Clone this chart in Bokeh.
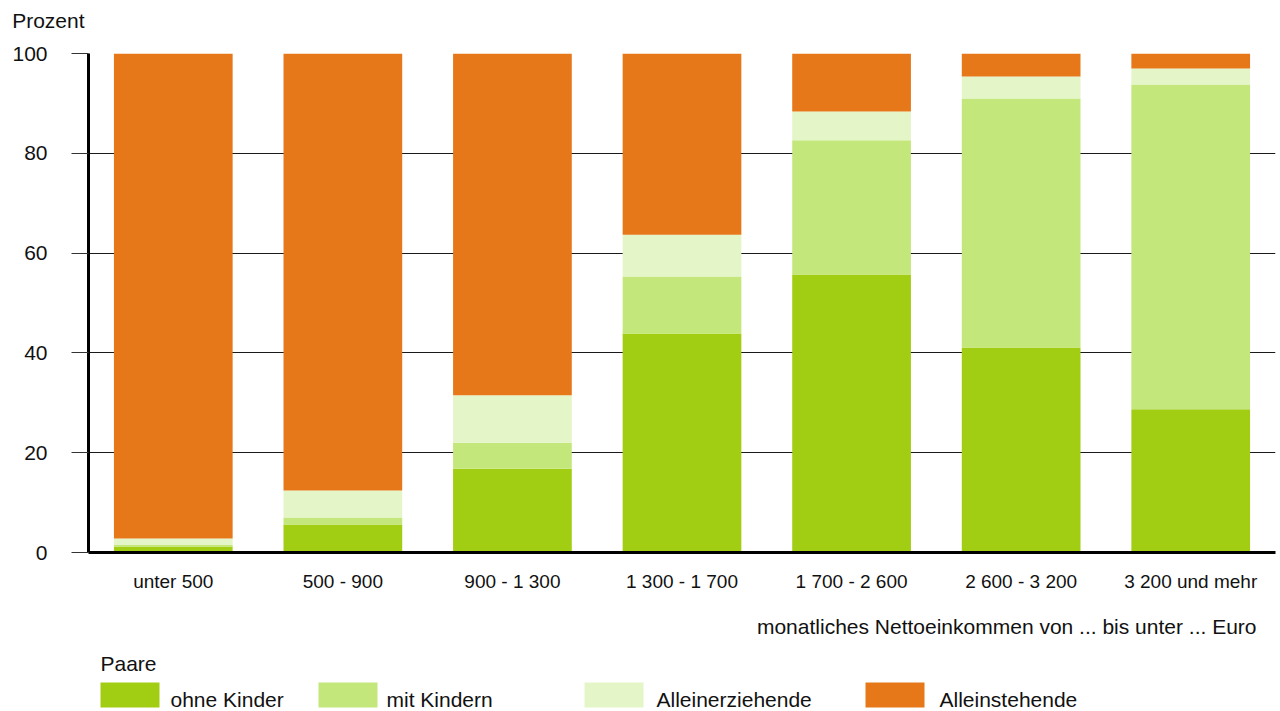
from bokeh.plotting import figure
from bokeh.models import Range1d, FactorRange, FixedTicker
from bokeh.layouts import column
from bokeh.core.properties import value
from bokeh.embed import file_html
from bokeh.resources import INLINE

# ---- data ----
categories = ["unter 500", "500 - 900", "900 - 1 300", "1 300 - 1 700",
              "1 700 - 2 600", "2 600 - 3 200", "3 200 und mehr"]
ohne_kinder = [1.2, 5.6, 16.8, 43.9, 55.7, 41.1, 28.7]
mit_kindern = [0.3, 1.4, 5.2, 11.4, 26.9, 49.9, 65.1]
alleinerziehende = [1.3, 5.4, 9.5, 8.4, 5.8, 4.4, 3.2]
alleinstehende = [97.2, 87.6, 68.5, 36.3, 11.6, 4.6, 3.0]
y_ticks = [0, 20, 40, 60, 80, 100]

series_names = ["ohne Kinder", "mit Kindern", "Alleinerziehende", "Alleinstehende"]
colors = ["#A1CD12", "#C4E77B", "#E4F5C7", "#E67819"]

FONT = "Liberation Sans"
TXT = "#111111"
W, H = 1280, 711
FL, FR = 88, 5
H_HEAD = 33
H_MAIN = 567

# ---- header: unit label "Prozent" as a single y-axis label ----
head = figure(width=W, height=H_HEAD, x_range=Range1d(0, 1), y_range=Range1d(0, H_HEAD),
              x_axis_type=None, toolbar_location=None, output_backend="svg",
              min_border_left=FL, min_border_right=FR, min_border_top=0,
              min_border_bottom=0)
head.outline_line_color = None
head.ygrid.grid_line_color = None
head.yaxis.ticker = FixedTicker(ticks=[H_HEAD - 20])
head.yaxis.major_label_overrides = {H_HEAD - 20: "Prozent"}
head.yaxis.axis_line_color = None
head.yaxis.major_tick_line_color = None
head.yaxis.minor_tick_line_color = None
head.yaxis.major_tick_in = 0
head.yaxis.major_tick_out = 0
head.yaxis.major_label_standoff = 4
head.yaxis.major_label_text_font = FONT
head.yaxis.major_label_text_font_size = "21px"
head.yaxis.major_label_text_color = TXT

# ---- main chart ----
p = figure(width=W, height=H_MAIN, x_range=FactorRange(*categories),
           y_range=Range1d(0, 100), toolbar_location=None, output_backend="svg",
           min_border_left=FL, min_border_right=FR, min_border_top=53 - H_HEAD,
           min_border_bottom=48)
p.outline_line_color = None

data = {"cat": categories, "ohne Kinder": ohne_kinder, "mit Kindern": mit_kindern,
        "Alleinerziehende": alleinerziehende, "Alleinstehende": alleinstehende}
p.vbar_stack(series_names, x="cat", width=0.7, color=colors, line_color=None,
             source=data)

p.xgrid.grid_line_color = None
p.ygrid.grid_line_color = "#1a1a1a"
p.ygrid.grid_line_width = 1
p.yaxis.ticker = FixedTicker(ticks=y_ticks)

p.yaxis.axis_line_width = 3
p.yaxis.axis_line_color = "black"
p.yaxis.major_tick_out = 17
p.yaxis.major_tick_in = 0
p.yaxis.major_tick_line_color = "#333333"
p.yaxis.minor_tick_line_color = None
p.yaxis.major_label_standoff = 24
p.yaxis.major_label_text_font = FONT
p.yaxis.major_label_text_font_size = "21px"
p.yaxis.major_label_text_color = TXT

p.xaxis.axis_line_width = 3
p.xaxis.axis_line_color = "black"
p.xaxis.major_tick_out = 0
p.xaxis.major_tick_in = 0
p.xaxis.major_tick_line_color = None
p.xaxis.major_label_standoff = 18
p.xaxis.major_label_text_font = FONT
p.xaxis.major_label_text_font_size = "19px"
p.xaxis.major_label_text_color = TXT

# ---- bottom: axis title and legend (x in page pixels, y downward) ----
H_BOT = H - H_HEAD - H_MAIN
b = figure(width=W, height=H_BOT, x_range=Range1d(FL, W - FR), y_range=Range1d(H_BOT, 0),
           x_axis_type=None, y_axis_type=None, toolbar_location=None,
           output_backend="svg", min_border_left=FL, min_border_right=FR,
           min_border_top=0, min_border_bottom=0)
b.outline_line_color = None
b.text(x=[1256], y=[26], text=["monatliches Nettoeinkommen von ... bis unter ... Euro"],
       text_font=value(FONT), text_font_size="21px", text_color=TXT,
       text_align="right", text_baseline="middle")
b.text(x=[100], y=[63], text=["Paare"], text_font=value(FONT), text_font_size="21px",
       text_color=TXT, text_align="left", text_baseline="middle")

sw_left = [100, 318, 584, 865]
sw_w = 59
lab_x = [170, 386, 656, 939]
b.quad(left=sw_left, right=[l + sw_w for l in sw_left], top=[82] * 4, bottom=[107] * 4,
       color=colors, line_color=None)
b.text(x=lab_x, y=[99] * 4, text=series_names, text_font=value(FONT),
       text_font_size="21px", text_color=TXT, text_align="left",
       text_baseline="middle")

layout = column(head, p, b, spacing=0)
open("out.html", "w").write(file_html(layout, INLINE))
